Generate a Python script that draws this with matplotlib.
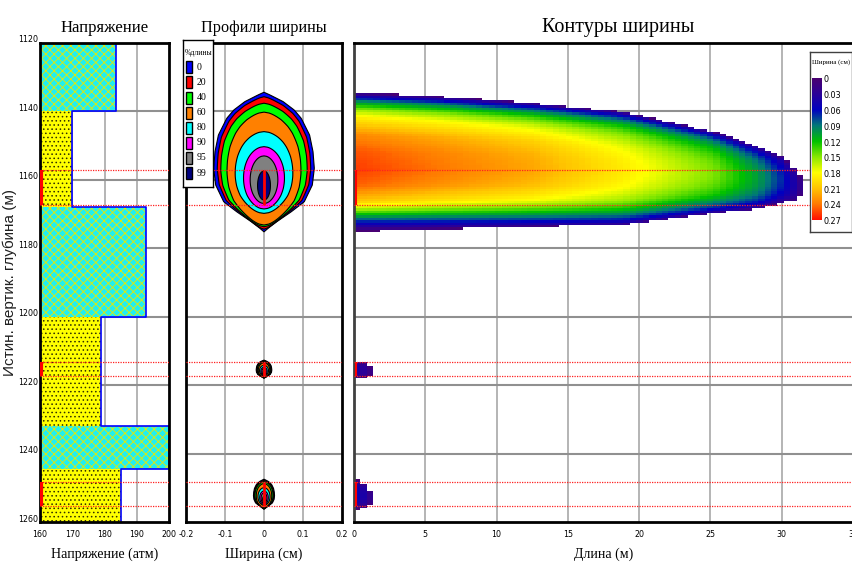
import numpy as np
import matplotlib
matplotlib.use('Agg')
import matplotlib.pyplot as plt
from matplotlib.colors import LinearSegmentedColormap
from matplotlib.patches import Rectangle, Polygon
import matplotlib.transforms as mtransforms

plt.rcParams['hatch.linewidth'] = 0.6

# ---------------- data ----------------
depth_ticks = [1120, 1140, 1160, 1180, 1200, 1220, 1240, 1260]
stress_ticks = [160, 170, 180, 190, 200]
width_ticks = [-0.2, -0.1, 0, 0.1, 0.2]
width_tick_labels = ['-0.2', '-0.1', '0', '0.1', '0.2']
length_ticks = [0, 5, 10, 15, 20, 25, 30, 35]

layer_top = [1120, 1140, 1168, 1200, 1232, 1244.5]
layer_bottom = [1140, 1168, 1200, 1232, 1244.5, 1260]
layer_stress = [183.5, 170, 193, 179, 200, 185]
layer_kind = ['shale', 'sand', 'shale', 'sand', 'shale', 'sand']

perf_top = [1157.1, 1213.2, 1248.4]
perf_bottom = [1167.4, 1217.3, 1255.3]

level_pct = [0, 20, 40, 60, 80, 90, 95, 99]
level_labels = ['0', '20', '40', '60', '80', '90', '95', '99']
level_colors = ['#0000FF', '#FF0000', '#00FF00', '#FF8000', '#00FFFF', '#FF00FF', '#808080', '#000080']
level_top = [1134.4, 1135.7, 1137.6, 1140.2, 1145.9, 1150.3, 1153.0, 1157.4]
level_bottom = [1175.2, 1174.4, 1173.7, 1173.2, 1169.8, 1168.5, 1166.9, 1165.9]
level_width = [0.258, 0.240, 0.222, 0.190, 0.148, 0.105, 0.071, 0.033]
tip_depth = 1162.0
half_length = 31.5

# normalised vertical width shape (read from the 0 % profile)
shape_s = [-1.0, -0.962, -0.866, -0.746, -0.627, -0.388, -0.148, 0.091, 0.33, 0.569, 0.713, 0.856, 0.95, 1.0]
shape_w = [0.0, 0.117, 0.38, 0.60, 0.74, 0.906, 0.974, 1.0, 0.96, 0.80, 0.54, 0.25, 0.08, 0.0]

small_top = [1212.7, 1247.5]
small_bottom = [1218.0, 1256.3]
small_width = [0.040, 0.054]
small_length = [1.3, 1.3]

cbar_ticks = ['0', '0.03', '0.06', '0.09', '0.12', '0.15', '0.18', '0.21', '0.24', '0.27']
cmap_colors = ['#4A0070', '#2A0098', '#0000C0', '#007878', '#00C000',
               '#88E800', '#FFFF00', '#FFC400', '#FF7A00', '#FF1000']

# ---------------- helpers ----------------
W, H = 853, 565
fig = plt.figure(figsize=(W / 100, H / 100), dpi=100)
SERIF = ['Liberation Serif', 'DejaVu Serif']
NARROW = ['Liberation Sans Narrow', 'DejaVu Sans']


def px_axes(x0, y0, x1, y1, **kw):
    return fig.add_axes([x0 / W, 1 - y1 / H, (x1 - x0) / W, (y1 - y0) / H], **kw)


cmap = LinearSegmentedColormap.from_list('wd', cmap_colors)

pct_ext = level_pct + [100]
top_ext = level_top + [tip_depth]
bot_ext = level_bottom + [tip_depth]
wid_ext = level_width + [0.0]
zc0 = (level_top[0] + level_bottom[0]) / 2
h0 = (level_bottom[0] - level_top[0]) / 2
w0 = level_width[0]


def frac_params(p, zc, h, wmax):
    t = np.interp(p, pct_ext, top_ext)
    b = np.interp(p, pct_ext, bot_ext)
    w = np.interp(p, pct_ext, wid_ext)
    return zc + (t - zc0) / h0 * h, zc + (b - zc0) / h0 * h, w / w0 * wmax


def shape_at(s, p):
    a = np.clip(p / 100.0, 0, 1) ** 0.8
    base = np.interp(s, shape_s, shape_w)
    ell = np.sqrt(np.clip(1 - np.asarray(s) ** 2, 0, 1))
    return (1 - a) * base + a * ell


fracs = [(zc0, h0, w0, half_length)]
for t, b, w, L in zip(small_top, small_bottom, small_width, small_length):
    fracs.append(((t + b) / 2, (b - t) / 2, w, L))


def tick_font(labels, size=6.3):
    for lab in labels:
        lab.set_family(NARROW)
        lab.set_fontsize(size)
        lab.set_stretch('condensed')


def style_axes(ax, spine_color='black'):
    for sp in ax.spines.values():
        sp.set_linewidth(2.0)
        sp.set_color(spine_color)
    ax.tick_params(length=0)
    ax.set_axisbelow(True)


def grid_lines(ax, xs):
    for x in xs:
        ax.axvline(x, color='#a8a8a8', lw=1.2, zorder=0.5)
    for d in depth_ticks[1:-1]:
        ax.axhline(d, color='#909090', lw=1.5, zorder=0.5)


def perf_lines(ax):
    for t, b in zip(perf_top, perf_bottom):
        for d in (t, b):
            ax.axhline(d, color='#FF2020', lw=0.9, ls=(0, (1, 1)), zorder=6)


# ---------------- left panel : stress ----------------
axL = px_axes(40, 43, 169, 522)
axL.set_xlim(160, 200)
axL.set_ylim(1260, 1120)
grid_lines(axL, [170, 180, 190])
for t, b, s, k in zip(layer_top, layer_bottom, layer_stress, layer_kind):
    if k == 'shale':
        r = Rectangle((160, t), s - 160, b - t, facecolor='#20F0F0', edgecolor='#E8E800',
                      hatch='xxxx', lw=0, zorder=1)
    else:
        r = Rectangle((160, t), s - 160, b - t, facecolor='#FFFF00', edgecolor='#303000',
                      hatch='....', lw=0, zorder=1)
    axL.add_patch(r)
step_y = []
step_x = []
for t, b, s in zip(layer_top, layer_bottom, layer_stress):
    step_y += [t, b]
    step_x += [s, s]
axL.plot(step_x, step_y, color='#0000FF', lw=1.2, zorder=2)
for t, b in zip(perf_top, perf_bottom):
    axL.plot([160.4, 160.4], [t, b], color='#FF0000', lw=3, zorder=7, solid_capstyle='butt')
perf_lines(axL)
axL.set_xticks(stress_ticks)
axL.set_yticks(depth_ticks)
style_axes(axL)
tick_font(axL.get_xticklabels() + axL.get_yticklabels())
axL.tick_params(axis='x', pad=6)
axL.tick_params(axis='y', pad=1.5)
off = mtransforms.ScaledTranslation(0, 4 / 100, fig.dpi_scale_trans)
for lab in axL.get_yticklabels():
    lab.set_transform(lab.get_transform() + off)
axL.set_title('Напряжение', family=SERIF, fontsize=12, pad=8)
axL.set_xlabel('Напряжение (атм)', family=SERIF, fontsize=10, labelpad=6)

# ---------------- middle panel : width profiles ----------------
axM = px_axes(186, 43, 342, 522)
axM.set_xlim(-0.2, 0.2)
axM.set_ylim(1260, 1120)
grid_lines(axM, [-0.1, 0, 0.1])
s_fine = np.linspace(-1, 1, 121)
for zc, h, wm, L in fracs:
    for p, col in zip(level_pct, level_colors):
        t, b, w = frac_params(p, zc, h, wm)
        zz = (t + b) / 2 + s_fine * (b - t) / 2
        xx = 0.5 * w * shape_at(s_fine, p)
        verts = np.column_stack([np.concatenate([xx, -xx[::-1]]),
                                 np.concatenate([zz, zz[::-1]])])
        axM.add_patch(Polygon(verts, closed=True, facecolor=col, edgecolor='black',
                              lw=0.8, zorder=3))
for t, b in zip(perf_top, perf_bottom):
    axM.plot([0, 0], [t, b], color='#FF0000', lw=2, zorder=5, solid_capstyle='butt')
perf_lines(axM)
axM.set_xticks(width_ticks)
axM.set_xticklabels(width_tick_labels)
axM.set_yticks([])
style_axes(axM)
tick_font(axM.get_xticklabels())
axM.tick_params(axis='x', pad=6)
axM.set_title('Профили ширины', family=SERIF, fontsize=11.7, pad=8)
axM.set_xlabel('Ширина (см)', family=SERIF, fontsize=10, labelpad=6)

# ---------------- right panel : width contours ----------------
axR = px_axes(354, 43, 853, 522)
axR.set_xlim(0, 34.75)
axR.set_ylim(1260, 1120)
grid_lines(axR, [5, 10, 15, 20, 25, 30])
xe = np.arange(0, 32.5, 0.45)
ze = np.arange(1120, 1260.01, 0.7)
xc = (xe[:-1] + xe[1:]) / 2
zcn = (ze[:-1] + ze[1:]) / 2
field = np.full((len(zcn), len(xc)), np.nan)
for zc, h, wm, L in fracs:
    for j, x in enumerate(xc):
        if x >= L:
            continue
        p = x / L * 100
        t, b, w = frac_params(p, zc, h, wm)
        if b <= t:
            continue
        inside = (zcn > t) & (zcn < b)
        s = (zcn[inside] - (t + b) / 2) / ((b - t) / 2)
        field[inside, j] = w * shape_at(s, p)
axR.pcolormesh(xe, ze, np.ma.masked_invalid(field), cmap=cmap, vmin=0, vmax=0.27,
               shading='flat', zorder=2)
for t, b in zip(perf_top, perf_bottom):
    axR.plot([0.17, 0.17], [t, b], color='#FF0000', lw=1.5, zorder=5, solid_capstyle='butt')
perf_lines(axR)
axR.set_xticks(length_ticks)
axR.set_yticks([])
style_axes(axR)
axR.spines['right'].set_visible(False)
axR.spines['left'].set_color('#404040')
tick_font(axR.get_xticklabels())
axR.tick_params(axis='x', pad=6)
axR.set_title('Контуры ширины', family=SERIF, fontsize=14.5, pad=8, x=0.53)
axR.set_xlabel('Длина (м)', family=SERIF, fontsize=10, labelpad=6, x=0.5)

# y label
fig.text(10 / W, 1 - 282 / H, 'Истин. вертик. глубина (м)', rotation=90, ha='center',
         va='center', family=['Liberation Sans', 'DejaVu Sans'], fontsize=11, color='#202020')

# ---------------- legend for profiles ----------------
axG = px_axes(183, 40, 213, 187)
axG.set_xlim(0, 30)
axG.set_ylim(147, 0)
axG.set_xticks([])
axG.set_yticks([])
axG.set_facecolor('white')
for sp in axG.spines.values():
    sp.set_linewidth(1.0)
axG.text(1.5, 13, '%длины', family=SERIF, fontsize=5.5, va='center', ha='left')
for i, (lab, col) in enumerate(zip(level_labels, level_colors)):
    yc = 27.3 + 15.1 * i
    axG.add_patch(Rectangle((3, yc - 6), 6.5, 12, facecolor=col, edgecolor='black', lw=1.0))
    axG.text(13.5, yc, lab, family=SERIF, fontsize=7, va='center', ha='left')

# ---------------- colour bar legend ----------------
axC = px_axes(810, 52, 852, 232)
axC.set_xlim(0, 42)
axC.set_ylim(180, 0)
axC.set_xticks([])
axC.set_yticks([])
axC.set_facecolor('white')
for sp in axC.spines.values():
    sp.set_linewidth(1.0)
    sp.set_color('#404040')
axC.text(21, 10, 'Ширина (см)', family=SERIF, fontsize=5, ha='center', va='center')
grad = np.linspace(0, 1, 256).reshape(-1, 1)
axC.imshow(grad, cmap=cmap, aspect='auto', extent=[1.7, 11, 168, 26], zorder=1)
for i, lab in enumerate(cbar_ticks):
    axC.text(13.5, 28 + i * 15.75, lab, family=NARROW, stretch='condensed', fontsize=6.5,
             ha='left', va='center')

fig.savefig('out.png', dpi=100)
